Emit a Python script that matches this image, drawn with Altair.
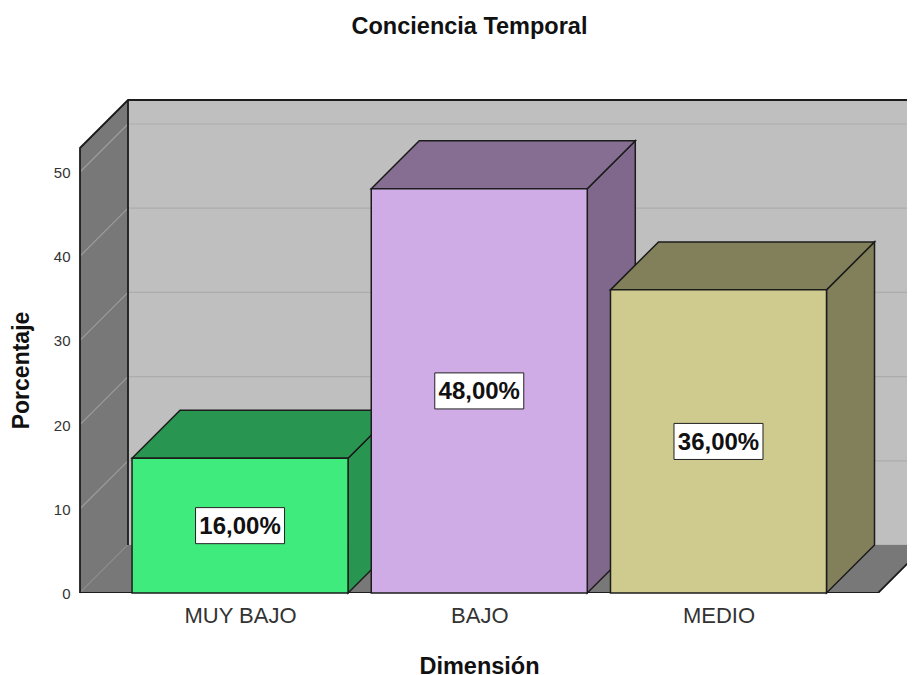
import altair as alt
import pandas as pd

categories = ["MUY BAJO", "BAJO", "MEDIO"]
values = [16, 48, 36]
labels = ["16,00%", "48,00%", "36,00%"]
front_colors = ["#40EB7D", "#D0ACE6", "#CFCA8E"]
top_colors = ["#289650", "#856E91", "#82805A"]
side_colors = ["#289650", "#80688C", "#82805A"]
grid_values = [0, 10, 20, 30, 40, 50]

X_MIN, X_MAX = -0.669, 2.788
Y_MIN, Y_MAX = 0, 58.55
DX, DY = 0.2007, 5.7
HALF = 0.4515
FLOOR_RIGHT = 2.667
WALL_FRONT_TOP = 52.85
BOX_W, BOX_H = 0.186, 2.14
EDGE = "#1c1c1c"

x_scale = alt.Scale(domain=[X_MIN, X_MAX], nice=False, zero=False)
y_scale = alt.Scale(domain=[Y_MIN, Y_MAX], nice=False, zero=False)
label_expr = "[" + ",".join(f"'{c}'" for c in categories) + "][datum.value]"

X_AXIS = alt.Axis(
    values=[0, 1, 2], labelExpr=label_expr, title="Dimensión", grid=False, domain=False,
    ticks=False, labelFont="Liberation Sans", labelFontSize=22, labelColor="#333333",
    labelPadding=12, labelFlush=False, labelOverlap=False, titleFont="Liberation Sans",
    titleFontSize=23.5, titleFontWeight="bold", titleColor="#111111", titleX=399, titleY=61,
    titleAlign="center",
)
Y_AXIS = alt.Axis(
    values=grid_values, title="Porcentaje", grid=False, domain=False, ticks=False,
    labelFont="Liberation Sans", labelFontSize=15, labelColor="#333333", labelPadding=10,
    labelOffset=0.5, titleFont="Liberation Sans", titleFontSize=23, titleFontWeight="bold",
    titleColor="#111111", titleX=-47, titleY=270, titleAlign="center",
)
X_ENC = alt.X("x:Q", scale=x_scale, axis=X_AXIS)
Y_ENC = alt.Y("y:Q", scale=y_scale, axis=Y_AXIS, stack=None)


def area(points, fill, stroke=None, clip=False):
    df = pd.DataFrame(points, columns=["x", "y", "y2"])
    kw = dict(color=fill, orient="vertical", interpolate="linear", opacity=1, clip=clip)
    if stroke:
        kw.update(stroke=stroke, strokeWidth=1.5, strokeJoin="miter")
    return alt.Chart(df).mark_area(**kw).encode(x=X_ENC, y=Y_ENC, y2="y2:Q")


def line(points, color, width=1.5, clip=False):
    df = pd.DataFrame(points, columns=["x", "y"])
    return alt.Chart(df).mark_line(color=color, strokeWidth=width, clip=clip).encode(x=X_ENC, y=Y_ENC)


def box(x0, x1, y0, y1, fill, stroke=EDGE, width=1.5):
    df = pd.DataFrame({"x": [x0], "x2": [x1], "y": [y0], "y2": [y1]})
    return alt.Chart(df).mark_rect(color=fill, stroke=stroke, strokeWidth=width).encode(
        x=X_ENC, x2="x2:Q", y=Y_ENC, y2="y2:Q"
    )


back_left = X_MIN + DX
layers = []
# back wall
layers.append(box(back_left, X_MAX, DY, Y_MAX, "#BFBFBF", stroke="#BFBFBF", width=0))
for v in grid_values:
    layers.append(line([(back_left, v + DY), (X_MAX, v + DY)], "#ADADAD", 1.2))
# left wall
layers.append(area([(X_MIN, WALL_FRONT_TOP, 0), (back_left, Y_MAX, DY)], "#787878"))
for v in grid_values:
    layers.append(line([(X_MIN, v), (back_left, v + DY)], "#9C9C9C", 1.2))
# floor
layers.append(area(
    [(X_MIN, 0, 0), (back_left, DY, 0), (FLOOR_RIGHT, DY, 0), (FLOOR_RIGHT + DX, DY, DY)],
    "#787878", clip=True,
))
# frame edges
layers.append(line([(X_MIN, 0), (X_MIN, WALL_FRONT_TOP), (back_left, Y_MAX), (X_MAX, Y_MAX)], EDGE, 1.8))
layers.append(line([(back_left, DY), (back_left, Y_MAX)], EDGE, 1.8))
layers.append(line([(X_MIN, 0), (FLOOR_RIGHT, 0), (FLOOR_RIGHT + DX, DY)], EDGE, 1.8, clip=True))

# bars
for i, v in enumerate(values):
    l, r = i - HALF, i + HALF
    layers.append(area([(r, v, 0), (r + DX, v + DY, DY)], side_colors[i], EDGE))
    layers.append(area([(l, v, v), (l + DX, v + DY, v), (r, v + DY, v), (r + DX, v + DY, v + DY)], top_colors[i], EDGE))
    layers.append(box(l, r, 0, v, front_colors[i]))

# value labels
for i, v in enumerate(values):
    layers.append(box(i - BOX_W, i + BOX_W, v / 2 - BOX_H, v / 2 + BOX_H, "#FFFFFF", stroke="#222222", width=1))
    layers.append(
        alt.Chart(pd.DataFrame({"x": [i], "y": [v / 2], "t": [labels[i]]}))
        .mark_text(font="Liberation Sans", fontSize=24, fontWeight="bold", color="#111111",
                   baseline="middle", align="center", dy=1.5)
        .encode(x=X_ENC, y=Y_ENC, text="t:N")
    )

chart = (
    alt.layer(*layers)
    .properties(
        width=827,
        height=493,
        title=alt.TitleParams(
            "Conciencia Temporal", font="Liberation Sans", fontSize=23.5, fontWeight="bold",
            color="#111111", anchor="middle", dx=-24, offset=58,
        ),
        autosize=alt.AutoSizeParams(type="none"),
        padding={"left": 72, "top": 92, "right": 0, "bottom": 86},
        background="#FFFFFF",
    )
    .configure_view(stroke=None)
)

chart.save("out.html", embed_options={"renderer": "svg", "actions": False})
